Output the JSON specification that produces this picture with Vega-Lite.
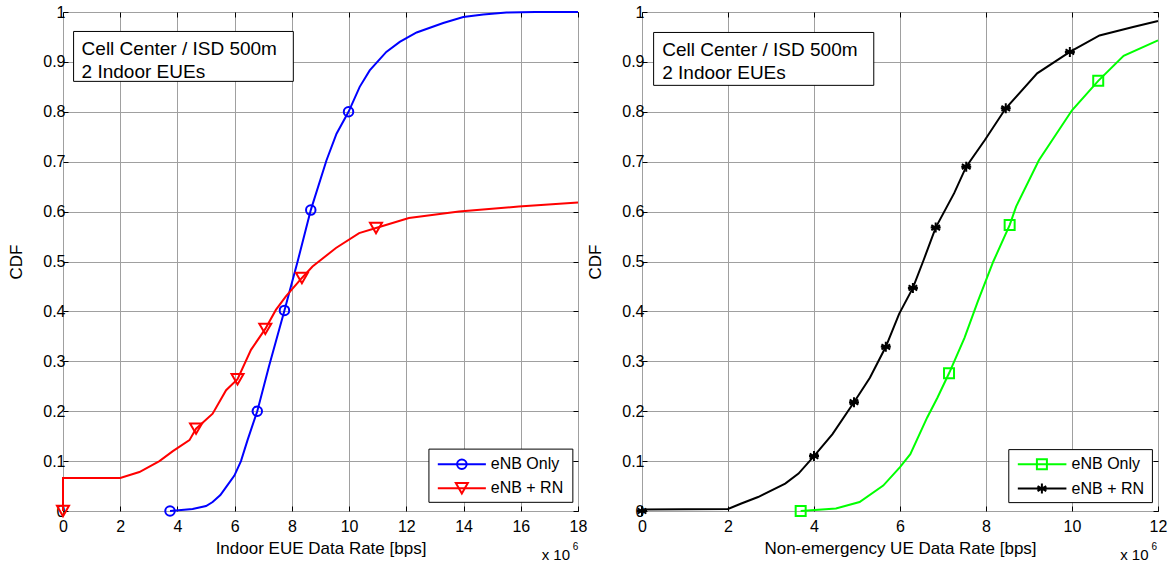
{
  "$schema": "https://vega.github.io/schema/vega-lite/v6.json",
  "background": "white",
  "padding": {"left": 7, "top": 3, "right": 5, "bottom": 5},
  "spacing": 64,
  "bounds": "flush",
  "config": {
    "font": "Liberation Sans",
    "view": {"stroke": "#000000", "strokeWidth": 1},
    "axis": {
      "domain": false, "grid": true, "gridColor": "#a0a0a0", "gridWidth": 1,
      "ticks": true, "tickColor": "#000000", "tickSize": -5, "tickWidth": 1,
      "labelFont": "Liberation Sans", "labelFontSize": 16, "labelColor": "#000000",
      "labelFlush": false, "labelOverlap": false, "labelBound": false,
      "titleFont": "Liberation Sans", "titleFontSize": 17, "titleFontWeight": "normal", "titleColor": "#000000"
    },
    "axisX": {"labelPadding": 12, "titlePadding": 6},
    "axisY": {"labelPadding": 3, "titlePadding": 17}
  },
  "datasets": {
    "left": [
      {"series": "eNB Only", "rate": 3.74, "cdf": 0},
      {"series": "eNB Only", "rate": 4.53, "cdf": 0.004},
      {"series": "eNB Only", "rate": 5.0, "cdf": 0.01},
      {"series": "eNB Only", "rate": 5.23, "cdf": 0.018},
      {"series": "eNB Only", "rate": 5.5, "cdf": 0.032},
      {"series": "eNB Only", "rate": 5.7, "cdf": 0.048},
      {"series": "eNB Only", "rate": 5.99, "cdf": 0.071},
      {"series": "eNB Only", "rate": 6.22, "cdf": 0.1},
      {"series": "eNB Only", "rate": 6.45, "cdf": 0.142},
      {"series": "eNB Only", "rate": 6.79, "cdf": 0.2},
      {"series": "eNB Only", "rate": 7.2, "cdf": 0.29},
      {"series": "eNB Only", "rate": 7.74, "cdf": 0.402},
      {"series": "eNB Only", "rate": 8.2, "cdf": 0.5},
      {"series": "eNB Only", "rate": 8.66, "cdf": 0.603},
      {"series": "eNB Only", "rate": 9.21, "cdf": 0.703},
      {"series": "eNB Only", "rate": 9.56, "cdf": 0.756},
      {"series": "eNB Only", "rate": 9.98, "cdf": 0.8},
      {"series": "eNB Only", "rate": 10.37, "cdf": 0.85},
      {"series": "eNB Only", "rate": 10.72, "cdf": 0.883},
      {"series": "eNB Only", "rate": 11.3, "cdf": 0.92},
      {"series": "eNB Only", "rate": 11.77, "cdf": 0.94},
      {"series": "eNB Only", "rate": 12.36, "cdf": 0.959},
      {"series": "eNB Only", "rate": 13.29, "cdf": 0.978},
      {"series": "eNB Only", "rate": 13.99, "cdf": 0.99},
      {"series": "eNB Only", "rate": 14.69, "cdf": 0.995},
      {"series": "eNB Only", "rate": 15.5, "cdf": 0.999},
      {"series": "eNB Only", "rate": 16.5, "cdf": 1},
      {"series": "eNB Only", "rate": 18, "cdf": 1},
      {"series": "eNB + RN", "rate": 0, "cdf": 0},
      {"series": "eNB + RN", "rate": 0, "cdf": 0.066},
      {"series": "eNB + RN", "rate": 2, "cdf": 0.066},
      {"series": "eNB + RN", "rate": 2.67, "cdf": 0.078},
      {"series": "eNB + RN", "rate": 3.37, "cdf": 0.1},
      {"series": "eNB + RN", "rate": 3.84, "cdf": 0.12},
      {"series": "eNB + RN", "rate": 4.42, "cdf": 0.142},
      {"series": "eNB + RN", "rate": 4.65, "cdf": 0.165},
      {"series": "eNB + RN", "rate": 5.23, "cdf": 0.195},
      {"series": "eNB + RN", "rate": 5.7, "cdf": 0.242},
      {"series": "eNB + RN", "rate": 6.1, "cdf": 0.264},
      {"series": "eNB + RN", "rate": 6.57, "cdf": 0.323},
      {"series": "eNB + RN", "rate": 7.07, "cdf": 0.365},
      {"series": "eNB + RN", "rate": 7.44, "cdf": 0.403},
      {"series": "eNB + RN", "rate": 7.79, "cdf": 0.43},
      {"series": "eNB + RN", "rate": 8.35, "cdf": 0.467},
      {"series": "eNB + RN", "rate": 8.72, "cdf": 0.49},
      {"series": "eNB + RN", "rate": 9.54, "cdf": 0.527},
      {"series": "eNB + RN", "rate": 10.35, "cdf": 0.557},
      {"series": "eNB + RN", "rate": 10.94, "cdf": 0.567},
      {"series": "eNB + RN", "rate": 12.09, "cdf": 0.587},
      {"series": "eNB + RN", "rate": 13.84, "cdf": 0.6},
      {"series": "eNB + RN", "rate": 15.93, "cdf": 0.61},
      {"series": "eNB + RN", "rate": 18, "cdf": 0.618}
    ],
    "leftMarkers": [
      {"series": "eNB Only", "rate": 3.74, "cdf": 0},
      {"series": "eNB Only", "rate": 6.79, "cdf": 0.2},
      {"series": "eNB Only", "rate": 7.74, "cdf": 0.402},
      {"series": "eNB Only", "rate": 8.66, "cdf": 0.603},
      {"series": "eNB Only", "rate": 9.98, "cdf": 0.8},
      {"series": "eNB + RN", "rate": 0, "cdf": 0},
      {"series": "eNB + RN", "rate": 4.65, "cdf": 0.165},
      {"series": "eNB + RN", "rate": 6.1, "cdf": 0.264},
      {"series": "eNB + RN", "rate": 7.07, "cdf": 0.365},
      {"series": "eNB + RN", "rate": 8.35, "cdf": 0.467},
      {"series": "eNB + RN", "rate": 10.94, "cdf": 0.567}
    ],
    "right": [
      {"series": "eNB Only", "rate": 3.69, "cdf": 0},
      {"series": "eNB Only", "rate": 4.51, "cdf": 0.005},
      {"series": "eNB Only", "rate": 5.06, "cdf": 0.018},
      {"series": "eNB Only", "rate": 5.61, "cdf": 0.051},
      {"series": "eNB Only", "rate": 6.0, "cdf": 0.088},
      {"series": "eNB Only", "rate": 6.24, "cdf": 0.114},
      {"series": "eNB Only", "rate": 6.63, "cdf": 0.187},
      {"series": "eNB Only", "rate": 6.87, "cdf": 0.227},
      {"series": "eNB Only", "rate": 7.14, "cdf": 0.276},
      {"series": "eNB Only", "rate": 7.5, "cdf": 0.347},
      {"series": "eNB Only", "rate": 7.81, "cdf": 0.42},
      {"series": "eNB Only", "rate": 8.17, "cdf": 0.5},
      {"series": "eNB Only", "rate": 8.55, "cdf": 0.573},
      {"series": "eNB Only", "rate": 8.7, "cdf": 0.61},
      {"series": "eNB Only", "rate": 9.23, "cdf": 0.703},
      {"series": "eNB Only", "rate": 10.0, "cdf": 0.803},
      {"series": "eNB Only", "rate": 10.61, "cdf": 0.862},
      {"series": "eNB Only", "rate": 11.2, "cdf": 0.912},
      {"series": "eNB Only", "rate": 12, "cdf": 0.943},
      {"series": "eNB + RN", "rate": 0, "cdf": 0.003},
      {"series": "eNB + RN", "rate": 2, "cdf": 0.004},
      {"series": "eNB + RN", "rate": 2.31, "cdf": 0.015},
      {"series": "eNB + RN", "rate": 2.7, "cdf": 0.028},
      {"series": "eNB + RN", "rate": 3.33, "cdf": 0.055},
      {"series": "eNB + RN", "rate": 3.64, "cdf": 0.075},
      {"series": "eNB + RN", "rate": 4.0, "cdf": 0.11},
      {"series": "eNB + RN", "rate": 4.43, "cdf": 0.154},
      {"series": "eNB + RN", "rate": 4.93, "cdf": 0.218},
      {"series": "eNB + RN", "rate": 5.3, "cdf": 0.267},
      {"series": "eNB + RN", "rate": 5.67, "cdf": 0.329},
      {"series": "eNB + RN", "rate": 5.98, "cdf": 0.395},
      {"series": "eNB + RN", "rate": 6.3, "cdf": 0.447},
      {"series": "eNB + RN", "rate": 6.55, "cdf": 0.503},
      {"series": "eNB + RN", "rate": 6.83, "cdf": 0.568},
      {"series": "eNB + RN", "rate": 7.26, "cdf": 0.637},
      {"series": "eNB + RN", "rate": 7.54, "cdf": 0.69},
      {"series": "eNB + RN", "rate": 7.97, "cdf": 0.743},
      {"series": "eNB + RN", "rate": 8.46, "cdf": 0.807},
      {"series": "eNB + RN", "rate": 9.19, "cdf": 0.877},
      {"series": "eNB + RN", "rate": 9.95, "cdf": 0.92},
      {"series": "eNB + RN", "rate": 10.64, "cdf": 0.953},
      {"series": "eNB + RN", "rate": 11.42, "cdf": 0.97},
      {"series": "eNB + RN", "rate": 12, "cdf": 0.982}
    ],
    "rightMarkers": [
      {"series": "eNB Only", "rate": 3.69, "cdf": 0},
      {"series": "eNB Only", "rate": 7.14, "cdf": 0.276},
      {"series": "eNB Only", "rate": 8.55, "cdf": 0.573},
      {"series": "eNB Only", "rate": 10.61, "cdf": 0.862},
      {"series": "eNB + RN", "rate": 0, "cdf": 0},
      {"series": "eNB + RN", "rate": 4.0, "cdf": 0.11},
      {"series": "eNB + RN", "rate": 4.93, "cdf": 0.218},
      {"series": "eNB + RN", "rate": 5.67, "cdf": 0.329},
      {"series": "eNB + RN", "rate": 6.3, "cdf": 0.447},
      {"series": "eNB + RN", "rate": 6.83, "cdf": 0.568},
      {"series": "eNB + RN", "rate": 7.54, "cdf": 0.69},
      {"series": "eNB + RN", "rate": 8.46, "cdf": 0.807},
      {"series": "eNB + RN", "rate": 9.95, "cdf": 0.92}
    ]
  },
  "hconcat": [
    {
      "width": 515,
      "height": 499,
      "resolve": {"axis": {"x": "independent", "y": "independent"}},
      "layer": [
        {
          "data": {"name": "left"},
          "transform": [{"filter": "datum.series === 'eNB Only'"}],
          "mark": {"type": "line", "color": "#0000ff", "strokeWidth": 2},
          "encoding": {
            "x": {"field": "rate", "type": "quantitative", "scale": {"domain": [0, 18], "nice": false, "zero": false},
                  "axis": {"values": [0, 2, 4, 6, 8, 10, 12, 14, 16, 18], "title": "Indoor EUE Data Rate [bps]"}},
            "y": {"field": "cdf", "type": "quantitative", "scale": {"domain": [0, 1], "nice": false},
                  "axis": {"values": [0, 0.1, 0.2, 0.3, 0.4, 0.5, 0.6, 0.7, 0.8, 0.9, 1], "format": "~g", "title": "CDF"}}
          }
        },
        {
          "data": {"values": [{}]},
          "mark": {"type": "point", "opacity": 0},
          "encoding": {
            "x": {"datum": 0, "type": "quantitative", "axis": {"orient": "top", "labels": false, "grid": false, "title": null, "values": [0, 2, 4, 6, 8, 10, 12, 14, 16, 18]}},
            "y": {"datum": 0, "type": "quantitative", "axis": {"orient": "right", "labels": false, "grid": false, "title": null, "values": [0, 0.1, 0.2, 0.3, 0.4, 0.5, 0.6, 0.7, 0.8, 0.9, 1]}}
          }
        },
        {
          "data": {"name": "leftMarkers"},
          "transform": [{"filter": "datum.series === 'eNB Only'"}],
          "mark": {"type": "point", "shape": "circle", "filled": false, "stroke": "#0000ff", "strokeWidth": 2, "size": 90, "opacity": 1},
          "encoding": {
            "x": {"field": "rate", "type": "quantitative", "axis": null},
            "y": {"field": "cdf", "type": "quantitative", "axis": null}
          }
        },
        {
          "data": {"name": "left"},
          "transform": [{"filter": "datum.series === 'eNB + RN'"}],
          "mark": {"type": "line", "color": "#ff0000", "strokeWidth": 2},
          "encoding": {
            "x": {"field": "rate", "type": "quantitative", "axis": null},
            "y": {"field": "cdf", "type": "quantitative", "axis": null}
          }
        },
        {
          "data": {"name": "leftMarkers"},
          "transform": [{"filter": "datum.series === 'eNB + RN'"}],
          "mark": {"type": "point", "shape": "triangle-down", "filled": false, "stroke": "#ff0000", "strokeWidth": 2, "size": 144, "opacity": 1},
          "encoding": {
            "x": {"field": "rate", "type": "quantitative", "axis": null},
            "y": {"field": "cdf", "type": "quantitative", "axis": null}
          }
        },
        {
          "data": {"values": [{}]},
          "mark": {"type": "rect", "fill": "#ffffff", "stroke": "#000000", "strokeWidth": 1},
          "encoding": {
            "x": {"datum": 0.37, "type": "quantitative", "axis": null},
            "x2": {"datum": 8.05},
            "y": {"datum": 0.961, "type": "quantitative", "axis": null},
            "y2": {"datum": 0.861}
          }
        },
        {
          "data": {"values": [{}]},
          "mark": {"type": "text", "text": ["Cell Center / ISD 500m", "2 Indoor EUEs"], "align": "left", "baseline": "alphabetic", "fontSize": 19, "lineHeight": 23, "color": "#000000"},
          "encoding": {
            "x": {"datum": 0.65, "type": "quantitative", "axis": null},
            "y": {"datum": 0.913, "type": "quantitative", "axis": null}
          }
        },
        {
          "data": {"values": [{}]},
          "mark": {"type": "rect", "fill": "#ffffff", "stroke": "#000000", "strokeWidth": 1},
          "encoding": {
            "x": {"datum": 12.79, "type": "quantitative", "axis": null},
            "x2": {"datum": 17.82},
            "y": {"datum": 0.124, "type": "quantitative", "axis": null},
            "y2": {"datum": 0.0174}
          }
        },
        {
          "data": {"values": [{}]},
          "mark": {"type": "rule", "color": "#0000ff", "strokeWidth": 2},
          "encoding": {
            "x": {"datum": 13.1, "type": "quantitative", "axis": null},
            "x2": {"datum": 14.78},
            "y": {"datum": 0.0936, "type": "quantitative", "axis": null}
          }
        },
        {
          "data": {"values": [{}]},
          "mark": {"type": "point", "shape": "circle", "filled": false, "stroke": "#0000ff", "strokeWidth": 2, "size": 90, "opacity": 1},
          "encoding": {
            "x": {"datum": 13.94, "type": "quantitative", "axis": null},
            "y": {"datum": 0.0936, "type": "quantitative", "axis": null}
          }
        },
        {
          "data": {"values": [{}]},
          "mark": {"type": "rule", "color": "#ff0000", "strokeWidth": 2},
          "encoding": {
            "x": {"datum": 13.1, "type": "quantitative", "axis": null},
            "x2": {"datum": 14.78},
            "y": {"datum": 0.0455, "type": "quantitative", "axis": null}
          }
        },
        {
          "data": {"values": [{}]},
          "mark": {"type": "point", "shape": "triangle-down", "filled": false, "stroke": "#ff0000", "strokeWidth": 2, "size": 144, "opacity": 1},
          "encoding": {
            "x": {"datum": 13.94, "type": "quantitative", "axis": null},
            "y": {"datum": 0.0455, "type": "quantitative", "axis": null}
          }
        },
        {
          "data": {"values": [{}]},
          "mark": {"type": "text", "text": "eNB Only", "align": "left", "baseline": "middle", "fontSize": 16, "color": "#000000"},
          "encoding": {
            "x": {"datum": 14.95, "type": "quantitative", "axis": null},
            "y": {"datum": 0.0936, "type": "quantitative", "axis": null}
          }
        },
        {
          "data": {"values": [{}]},
          "mark": {"type": "text", "text": "eNB + RN", "align": "left", "baseline": "middle", "fontSize": 16, "color": "#000000"},
          "encoding": {
            "x": {"datum": 14.95, "type": "quantitative", "axis": null},
            "y": {"datum": 0.0455, "type": "quantitative", "axis": null}
          }
        },
        {
          "data": {"values": [{}]},
          "mark": {"type": "text", "text": "x 10", "align": "left", "baseline": "alphabetic", "fontSize": 15, "color": "#000000"},
          "encoding": {
            "x": {"datum": 16.73, "type": "quantitative", "axis": null},
            "y": {"datum": -0.099, "type": "quantitative", "axis": null}
          }
        },
        {
          "data": {"values": [{}]},
          "mark": {"type": "text", "text": "6", "align": "left", "baseline": "alphabetic", "fontSize": 10, "color": "#000000"},
          "encoding": {
            "x": {"datum": 17.82, "type": "quantitative", "axis": null},
            "y": {"datum": -0.079, "type": "quantitative", "axis": null}
          }
        }
      ]
    },
    {
      "width": 516,
      "height": 499,
      "resolve": {"axis": {"x": "independent", "y": "independent"}},
      "layer": [
        {
          "data": {"name": "right"},
          "transform": [{"filter": "datum.series === 'eNB Only'"}],
          "mark": {"type": "line", "color": "#00ff00", "strokeWidth": 2},
          "encoding": {
            "x": {"field": "rate", "type": "quantitative", "scale": {"domain": [0, 12], "nice": false, "zero": false},
                  "axis": {"values": [0, 2, 4, 6, 8, 10, 12], "title": "Non-emergency UE Data Rate [bps]"}},
            "y": {"field": "cdf", "type": "quantitative", "scale": {"domain": [0, 1], "nice": false},
                  "axis": {"values": [0, 0.1, 0.2, 0.3, 0.4, 0.5, 0.6, 0.7, 0.8, 0.9, 1], "format": "~g", "title": "CDF"}}
          }
        },
        {
          "data": {"values": [{}]},
          "mark": {"type": "point", "opacity": 0},
          "encoding": {
            "x": {"datum": 0, "type": "quantitative", "axis": {"orient": "top", "labels": false, "grid": false, "title": null, "values": [0, 2, 4, 6, 8, 10, 12]}},
            "y": {"datum": 0, "type": "quantitative", "axis": {"orient": "right", "labels": false, "grid": false, "title": null, "values": [0, 0.1, 0.2, 0.3, 0.4, 0.5, 0.6, 0.7, 0.8, 0.9, 1]}}
          }
        },
        {
          "data": {"name": "rightMarkers"},
          "transform": [{"filter": "datum.series === 'eNB Only'"}],
          "mark": {"type": "point", "shape": "square", "filled": false, "stroke": "#00ff00", "strokeWidth": 2, "size": 100, "opacity": 1},
          "encoding": {
            "x": {"field": "rate", "type": "quantitative", "axis": null},
            "y": {"field": "cdf", "type": "quantitative", "axis": null}
          }
        },
        {
          "data": {"name": "right"},
          "transform": [{"filter": "datum.series === 'eNB + RN'"}],
          "mark": {"type": "line", "color": "#000000", "strokeWidth": 2},
          "encoding": {
            "x": {"field": "rate", "type": "quantitative", "axis": null},
            "y": {"field": "cdf", "type": "quantitative", "axis": null}
          }
        },
        {
          "data": {"name": "rightMarkers"},
          "transform": [{"filter": "datum.series === 'eNB + RN'"}],
          "mark": {"type": "point", "shape": "M0,-1L0,1M-0.87,-0.5L0.87,0.5M-0.87,0.5L0.87,-0.5M-1,0L1,0", "filled": false, "stroke": "#000000", "strokeWidth": 2, "size": 100, "opacity": 1},
          "encoding": {
            "x": {"field": "rate", "type": "quantitative", "axis": null},
            "y": {"field": "cdf", "type": "quantitative", "axis": null}
          }
        },
        {
          "data": {"values": [{}]},
          "mark": {"type": "rect", "fill": "#ffffff", "stroke": "#000000", "strokeWidth": 1},
          "encoding": {
            "x": {"datum": 0.27, "type": "quantitative", "axis": null},
            "x2": {"datum": 5.39},
            "y": {"datum": 0.959, "type": "quantitative", "axis": null},
            "y2": {"datum": 0.853}
          }
        },
        {
          "data": {"values": [{}]},
          "mark": {"type": "text", "text": ["Cell Center / ISD 500m", "2 Indoor EUEs"], "align": "left", "baseline": "alphabetic", "fontSize": 19, "lineHeight": 23, "color": "#000000"},
          "encoding": {
            "x": {"datum": 0.47, "type": "quantitative", "axis": null},
            "y": {"datum": 0.911, "type": "quantitative", "axis": null}
          }
        },
        {
          "data": {"values": [{}]},
          "mark": {"type": "rect", "fill": "#ffffff", "stroke": "#000000", "strokeWidth": 1},
          "encoding": {
            "x": {"datum": 8.53, "type": "quantitative", "axis": null},
            "x2": {"datum": 11.87},
            "y": {"datum": 0.123, "type": "quantitative", "axis": null},
            "y2": {"datum": 0.0168}
          }
        },
        {
          "data": {"values": [{}]},
          "mark": {"type": "rule", "color": "#00ff00", "strokeWidth": 2},
          "encoding": {
            "x": {"datum": 8.74, "type": "quantitative", "axis": null},
            "x2": {"datum": 9.87},
            "y": {"datum": 0.0936, "type": "quantitative", "axis": null}
          }
        },
        {
          "data": {"values": [{}]},
          "mark": {"type": "point", "shape": "square", "filled": false, "stroke": "#00ff00", "strokeWidth": 2, "size": 100, "opacity": 1},
          "encoding": {
            "x": {"datum": 9.3, "type": "quantitative", "axis": null},
            "y": {"datum": 0.0936, "type": "quantitative", "axis": null}
          }
        },
        {
          "data": {"values": [{}]},
          "mark": {"type": "rule", "color": "#000000", "strokeWidth": 2},
          "encoding": {
            "x": {"datum": 8.74, "type": "quantitative", "axis": null},
            "x2": {"datum": 9.87},
            "y": {"datum": 0.0449, "type": "quantitative", "axis": null}
          }
        },
        {
          "data": {"values": [{}]},
          "mark": {"type": "point", "shape": "M0,-1L0,1M-0.87,-0.5L0.87,0.5M-0.87,0.5L0.87,-0.5M-1,0L1,0", "filled": false, "stroke": "#000000", "strokeWidth": 2, "size": 100, "opacity": 1},
          "encoding": {
            "x": {"datum": 9.3, "type": "quantitative", "axis": null},
            "y": {"datum": 0.0449, "type": "quantitative", "axis": null}
          }
        },
        {
          "data": {"values": [{}]},
          "mark": {"type": "text", "text": "eNB Only", "align": "left", "baseline": "middle", "fontSize": 16, "color": "#000000"},
          "encoding": {
            "x": {"datum": 9.99, "type": "quantitative", "axis": null},
            "y": {"datum": 0.0936, "type": "quantitative", "axis": null}
          }
        },
        {
          "data": {"values": [{}]},
          "mark": {"type": "text", "text": "eNB + RN", "align": "left", "baseline": "middle", "fontSize": 16, "color": "#000000"},
          "encoding": {
            "x": {"datum": 9.99, "type": "quantitative", "axis": null},
            "y": {"datum": 0.0449, "type": "quantitative", "axis": null}
          }
        },
        {
          "data": {"values": [{}]},
          "mark": {"type": "text", "text": "x 10", "align": "left", "baseline": "alphabetic", "fontSize": 15, "color": "#000000"},
          "encoding": {
            "x": {"datum": 11.12, "type": "quantitative", "axis": null},
            "y": {"datum": -0.099, "type": "quantitative", "axis": null}
          }
        },
        {
          "data": {"values": [{}]},
          "mark": {"type": "text", "text": "6", "align": "left", "baseline": "alphabetic", "fontSize": 10, "color": "#000000"},
          "encoding": {
            "x": {"datum": 11.85, "type": "quantitative", "axis": null},
            "y": {"datum": -0.079, "type": "quantitative", "axis": null}
          }
        }
      ]
    }
  ]
}
